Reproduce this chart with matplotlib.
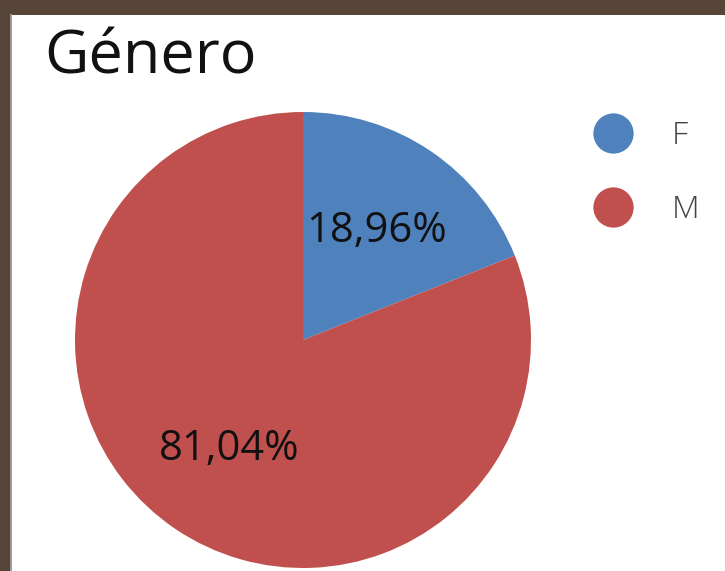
import matplotlib
matplotlib.use('Agg')
import matplotlib.pyplot as plt
from matplotlib.patches import Rectangle
from matplotlib.lines import Line2D

#%% data
labels = ['F', 'M']
values = [18.96, 81.04]
colors = ['#4F81BD', '#C0504D']
title = 'Género'

plt.rcParams['font.family'] = ['Open Sans', 'DejaVu Sans']

W, H = 725, 571
fig = plt.figure(figsize=(W / 100, H / 100), dpi=100, facecolor='#574438')

# white panel inside the brown frame
fig.patches.append(Rectangle((10 / W, 0), 2 / W, (H - 14) / H, transform=fig.transFigure,
                             facecolor='#9a9a9a', edgecolor='none', zorder=-2))
fig.patches.append(Rectangle((12 / W, 0), 1, (H - 15) / H, transform=fig.transFigure,
                             facecolor='white', edgecolor='none', zorder=-1))

#%% pie
ax = fig.add_axes([75 / W, (H - 568) / H, 456 / W, 456 / H])
ax.pie(values, colors=colors, startangle=90, counterclock=False, radius=1,
       autopct=lambda p: ('%.2f%%' % p).replace('.', ','), pctdistance=0.575,
       textprops={'fontsize': 30, 'color': '#111111'},
       wedgeprops={'linewidth': 0})
ax.set_xlim(-1, 1)
ax.set_ylim(-1, 1)

fig.text(44 / W, 1 - 57 / H, title, fontsize=44, color='#111111', va='center', ha='left')

#%% legend
handles = [Line2D([], [], marker='o', linestyle='none', markersize=29,
                  markerfacecolor=c, markeredgecolor='none') for c in colors]
leg = fig.legend(handles, labels, loc='upper left', bbox_to_anchor=(589 / W, 1 - 120 / H),
                 frameon=False, fontsize=23, labelspacing=1.31, handletextpad=1.09,
                 handlelength=1.5, borderpad=0, borderaxespad=0)
for t in leg.get_texts():
    t.set_color('#444444')
    t.set_fontweight('light')

fig.savefig('out.png', dpi=100, facecolor=fig.get_facecolor())
